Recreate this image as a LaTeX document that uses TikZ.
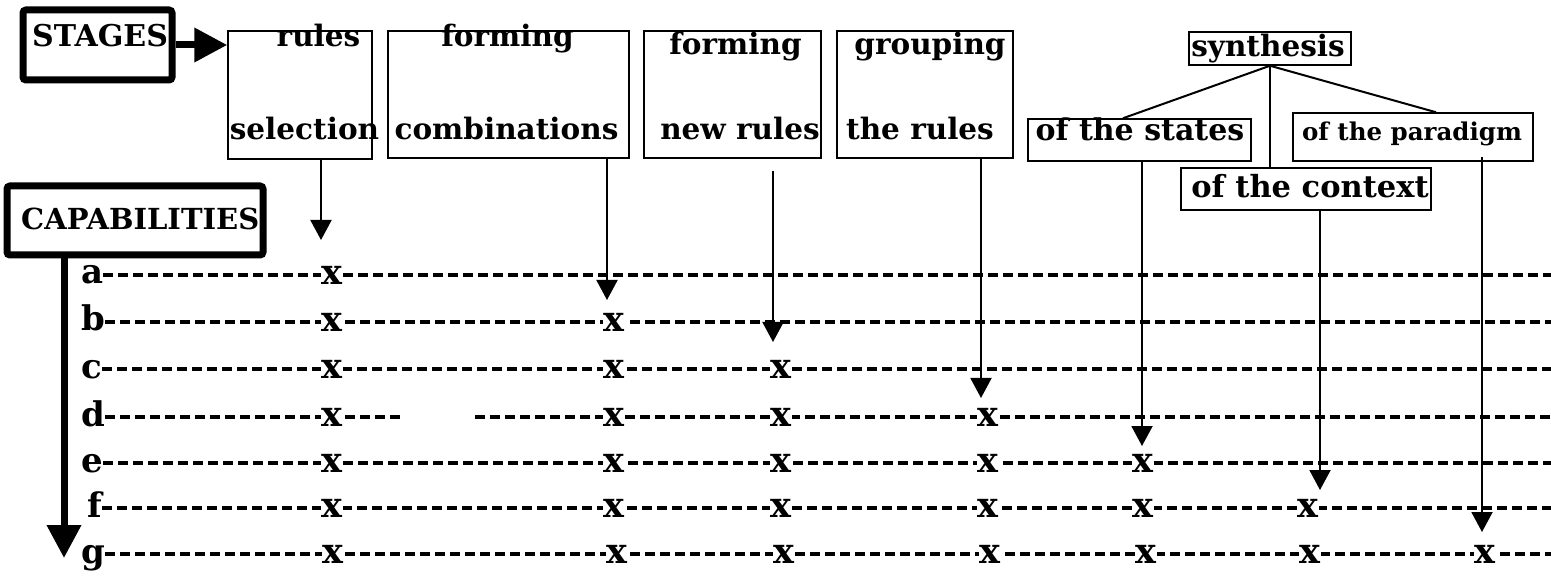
\documentclass[tikz,border=0pt]{standalone}
\usepackage{fontspec}
\setmainfont{DejaVu Serif}
\usetikzlibrary{arrows.meta}

\begin{document}
\begin{tikzpicture}[x=1pt,y=-1pt,
    stagebox/.style={draw,line width=1.5pt,inner sep=0pt},
    thickbox/.style={draw,line width=7pt,rounded corners=3pt,inner sep=0pt},
    boxtext/.style={inner sep=0pt,anchor=base,font=\fontsize{29.5}{31}\selectfont\bfseries},
    bigtext/.style={inner sep=0pt,anchor=base west,font=\fontsize{30}{32}\selectfont\bfseries},
    rowlbl/.style={inner sep=0pt,anchor=west,text height=18pt,text depth=0pt,font=\fontsize{34}{36}\selectfont\bfseries},
    xmark/.style={fill=white,inner xsep=1pt,inner ysep=0pt,text height=18.2pt,text depth=0pt,font=\fontsize{35}{37}\selectfont\bfseries},
    dashline/.style={line width=3.5pt,dash pattern=on 10pt off 5pt},
    conn/.style={line width=2pt,-{Triangle[length=20pt,width=21pt]}},
    link/.style={line width=2pt},
    bigarrow/.style={line width=7pt,-{Triangle[length=33pt,width=33pt]}}]

        \useasboundingbox (0,0) rectangle (1551,577);
        \coordinate (edge) at (1551,0);

        % Stage boxes
        \node[stagebox,minimum width=144pt,minimum height=128pt] (sel) at (300,95) {};
        \node[stagebox,minimum width=241pt,minimum height=127pt] (comb) at (508.5,94.5) {};
        \node[stagebox,minimum width=177pt,minimum height=127pt] (newr) at (732.5,94.5) {};
        \node[stagebox,minimum width=176pt,minimum height=127pt] (grp) at (925,94.5) {};
        \node[stagebox,minimum width=162pt,minimum height=33pt] (syn) at (1270,48.5) {};
        \node[stagebox,minimum width=223pt,minimum height=42pt] (states) at (1139.5,140) {};
        \node[stagebox,minimum width=240pt,minimum height=48pt] (par) at (1413,137) {};
        \node[stagebox,minimum width=250pt,minimum height=42pt] (ctx) at (1306,189) {};

        \node[boxtext] (tRules) at (318.5,47) {rules};
        \node[boxtext] (tSel) at (304.5,140) {selection};
        \node[boxtext] (tForm) at (507.5,47) {forming};
        \node[boxtext] (tComb) at (506.5,140) {combinations};
        \node[boxtext] (tForm2) at (735.5,55) {forming};
        \node[boxtext] (tNew) at (740,140) {new rules};
        \node[boxtext] (tGrp) at (930,55) {grouping};
        \node[boxtext] (tThe) at (920,140) {the rules};
        \node[boxtext] (tSyn) at (1268,57) {synthesis};
        \node[boxtext,font=\fontsize{30}{32}\selectfont\bfseries] (tStates) at (1140,141) {of the states};
        \node[boxtext,font=\fontsize{24.5}{26}\selectfont\bfseries] (tPar) at (1412,141) {of the paradigm};
        \node[boxtext,font=\fontsize{30.5}{32}\selectfont\bfseries] (tCtx) at (1310,198) {of the context};

        % Synthesis branches
        \draw[link] (syn.south) -- (states.north -| 1123,0);
        \draw[link] (syn.south) -- (par.north -| 1436,0);
        \draw[link] (syn.south) -- (ctx.north -| syn.south);

        % STAGES and CAPABILITIES
        \node[thickbox,minimum width=149pt,minimum height=70pt] (stages) at (97.5,45) {};
        \node[bigtext] (tStages) at (32,47) {STAGES};
        \draw[bigarrow] (stages.east) -- (stages.east -| sel.west);

        \node[thickbox,minimum width=256pt,minimum height=69pt] (cap) at (135,220.5) {};
        \node[bigtext,font=\fontsize{29}{31}\selectfont\bfseries] (tCap) at (21,230) {CAPABILITIES};
        \coordinate (capEnd) at (64,558);
        \draw[bigarrow] (cap.south -| capEnd) -- (capEnd);

        % Capability rows
        \node[rowlbl] (la) at (81,275) {a};
        \node[rowlbl] (lb) at (81,322) {b};
        \node[rowlbl] (lc) at (81,369) {c};
        \node[rowlbl] (ld) at (81,417) {d};
        \node[rowlbl] (le) at (81,463) {e};
        \node[rowlbl] (lf) at (87,508) {f};
        \node[rowlbl] (lg) at (81,554) {g};

        \coordinate (gapL) at (400,417);
        \coordinate (gapR) at (475,417);
        \draw[dashline] (la.east) -- (la.east -| edge);
        \draw[dashline] (lb.east) -- (lb.east -| edge);
        \draw[dashline] (lc.east) -- (lc.east -| edge);
        \draw[dashline] (ld.east) -- (gapL) (gapR) -- (ld.east -| edge);
        \draw[dashline] (le.east) -- (le.east -| edge);
        \draw[dashline] (lf.east) -- (lf.east -| edge);
        \draw[dashline] (lg.east) -- (lg.east -| edge);

        % Crossings
        \node[xmark] (xa1) at (332,275) {x};

        \node[xmark] (xb1) at (332,322) {x};
        \node[xmark] (xb2) at (614,322) {x};

        \node[xmark] (xc1) at (332,369) {x};
        \node[xmark] (xc2) at (614,369) {x};
        \node[xmark] (xc3) at (781,369) {x};

        \node[xmark] (xd1) at (332,417) {x};
        \node[xmark] (xd2) at (614,417) {x};
        \node[xmark] (xd3) at (781,417) {x};
        \node[xmark] (xd4) at (988,417) {x};

        \node[xmark] (xe1) at (332,463) {x};
        \node[xmark] (xe2) at (614,463) {x};
        \node[xmark] (xe3) at (781,463) {x};
        \node[xmark] (xe4) at (988,463) {x};
        \node[xmark] (xe5) at (1143,463) {x};

        \node[xmark] (xf1) at (332,508) {x};
        \node[xmark] (xf2) at (614,508) {x};
        \node[xmark] (xf3) at (781,508) {x};
        \node[xmark] (xf4) at (988,508) {x};
        \node[xmark] (xf5) at (1143,508) {x};
        \node[xmark] (xf6) at (1308,508) {x};

        \node[xmark] (xg1) at (333,554) {x};
        \node[xmark] (xg2) at (617,554) {x};
        \node[xmark] (xg3) at (784,554) {x};
        \node[xmark] (xg4) at (990,554) {x};
        \node[xmark] (xg5) at (1146,554) {x};
        \node[xmark] (xg6) at (1310,554) {x};
        \node[xmark] (xg7) at (1485,554) {x};

        % Stage arrows down to the rows
        \coordinate (tipSel) at (321,240);
        \coordinate (tipComb) at (607,300);
        \coordinate (tipNew) at (773,342);
        \coordinate (tipGrp) at (981,398);
        \coordinate (tipSt) at (1142,446);
        \coordinate (tipCtx) at (1320,490);
        \coordinate (tipPar) at (1482,532);
        \draw[conn] (sel.south -| tipSel) -- (tipSel);
        \draw[conn] (comb.south -| tipComb) -- (tipComb);
        \draw[conn] ([yshift=-12pt]newr.south -| tipNew) -- (tipNew);
        \draw[conn] (grp.south -| tipGrp) -- (tipGrp);
        \draw[conn] (states.south -| tipSt) -- (tipSt);
        \draw[conn] (ctx.south -| tipCtx) -- (tipCtx);
        \draw[conn] ([yshift=5pt]par.south -| tipPar) -- (tipPar);

\end{tikzpicture}
\end{document}
